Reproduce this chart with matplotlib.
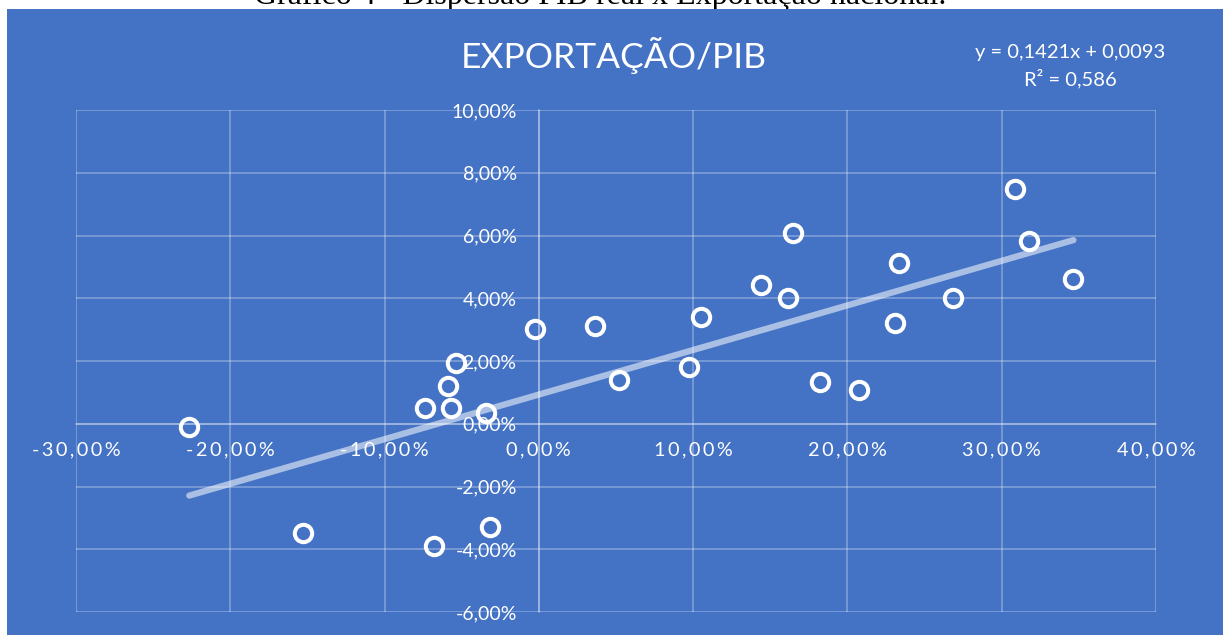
import matplotlib
matplotlib.use("Agg")
import matplotlib.pyplot as plt
from matplotlib.patches import Rectangle
from matplotlib.ticker import FuncFormatter, MultipleLocator
import numpy as np

# ---- data (percent) ----
pib_real = [-22.66, -15.31, -7.35, -6.80, -5.90, -5.69, -5.36, -3.41, -3.14,
            -0.28, 3.63, 5.17, 9.75, 10.52, 14.38, 16.18, 16.44, 18.19, 20.77,
            23.09, 23.34, 26.82, 30.86, 31.74, 34.65]
exportacao = [-0.11, -3.48, 0.50, -3.91, 1.21, 0.50, 1.93, 0.34, -3.29,
              3.01, 3.12, 1.40, 1.81, 3.40, 4.41, 4.00, 6.09, 1.32, 1.09,
              3.21, 5.11, 4.00, 7.48, 5.81, 4.61]
slope = 0.1421
intercept = 0.0093
r2 = 0.586
title = "EXPORTAÇÃO/PIB"
caption = "Gráfico 4 - Dispersão PIB real x Exportação nacional."

BLUE = "#4472C4"
FONT = ["Lato", "DejaVu Sans"]

fig = plt.figure(figsize=(12.23, 6.35), dpi=100, facecolor="white")
W, H = 1223, 635

# caption (cut off at the top, as in the reference)
fig.text(600 / W, 1 - 4 / H, caption, ha="center", va="baseline",
         fontsize=23, family="Liberation Serif", color="black", zorder=0)
# blue chart area
fig.patches.append(Rectangle((7 / W, 0), 1 - 7 / W, 1 - 8.5 / H, transform=fig.transFigure,
                             facecolor=BLUE, edgecolor="none", zorder=1))

ax = fig.add_axes([76 / W, 1 - 612 / H, (1156 - 76) / W, (612 - 110) / H])
ax.set_facecolor("none")
ax.set_zorder(2)

ax.set_xlim(-30, 40)
ax.set_ylim(-6, 10)
ax.xaxis.set_major_locator(MultipleLocator(10))
ax.yaxis.set_major_locator(MultipleLocator(2))

gap = "\u200a\u200a"
ax.xaxis.set_major_formatter(FuncFormatter(
    lambda v, p: gap.join(f"{v:.2f}".replace(".", ",") + "%")))
ax.yaxis.set_major_formatter(FuncFormatter(
    lambda v, p: f"{v:.2f}".replace(".", ",") + "%"))

grid_col = (1, 1, 1, 0.32)
ax.grid(True, color=grid_col, linewidth=1.2)
ax.set_axisbelow(True)
for s in ["top", "right"]:
    ax.spines[s].set_visible(False)
ax.spines["bottom"].set_position(("data", 0))
ax.spines["left"].set_position(("data", 0))
for s in ["bottom", "left"]:
    ax.spines[s].set_color(grid_col)
    ax.spines[s].set_linewidth(1.2)

ax.tick_params(axis="both", length=0, colors="white", labelsize=14)
ax.tick_params(axis="x", labelsize=14.3, pad=13)
ax.tick_params(axis="y", pad=16)
for lab in ax.get_xticklabels() + ax.get_yticklabels():
    lab.set_family(FONT)

# trendline
xs = np.array([min(pib_real), max(pib_real)])
ys = (slope * xs / 100 + intercept) * 100
ax.plot(xs, ys, color=(1, 1, 1, 0.55), linewidth=4.5, solid_capstyle="round", zorder=3)

# scatter
ax.plot(pib_real, exportacao, linestyle="none", marker="o", markersize=12.5,
        markerfacecolor="none", markeredgecolor="white", markeredgewidth=2.9,
        zorder=4, clip_on=False)

fig.text(614 / W, 1 - 55 / H, title, ha="center", va="center", color="white",
         fontsize=25.5, family=FONT, zorder=5)
fig.text(1070 / W, 1 - 66 / H, f"y = {slope:.4f}x + {intercept:.4f}".replace(".", ",")
         + "\n" + f"R² = {r2:.3f}".replace(".", ","),
         ha="center", va="center", color="white", fontsize=14.5, family=FONT,
         linespacing=1.5, zorder=5)

fig.savefig("out.png", dpi=100, facecolor="white")
